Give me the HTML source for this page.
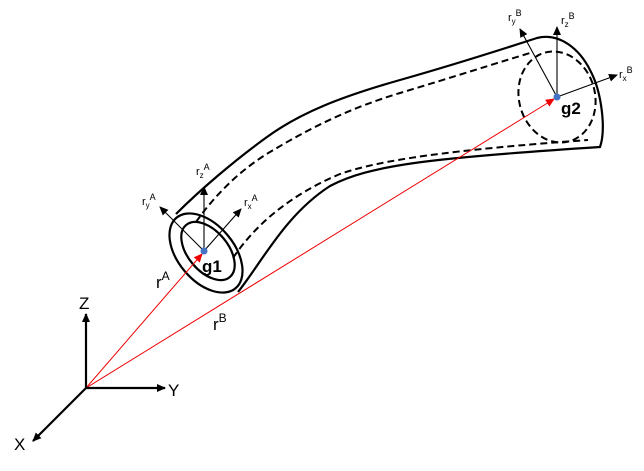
<!DOCTYPE html>
<html><head><meta charset="utf-8"><style>
html,body{margin:0;padding:0;background:#fff;}
svg{display:block;}
text{font-family:"Liberation Sans",sans-serif;}
</style></head><body>
<svg width="644" height="471" viewBox="0 0 644 471" xmlns="http://www.w3.org/2000/svg">
<defs>
<marker id="ab" markerWidth="10" markerHeight="10" refX="8" refY="4" orient="auto" markerUnits="userSpaceOnUse"><path d="M0,0 L9,4 L0,8 z" fill="#000"/></marker>
<marker id="ar" markerWidth="10" markerHeight="10" refX="8" refY="4" orient="auto" markerUnits="userSpaceOnUse"><path d="M0,0 L9,4 L0,8 z" fill="#e00"/></marker>
</defs>
<g fill="none" stroke="#000" stroke-width="2.2">
<path d="M176,214 C200,190 235,160 267,137 C300,113 340,97 400,80 C460,63 500,50 537,38 C560,32 580,50 590,70 C602,92 606,130 600,147 C430,158 370,165 330,186 C285,215 262,262 238,292"/>
<ellipse cx="206" cy="253" rx="46" ry="28" transform="rotate(50 206 253)"/>
<ellipse cx="208" cy="251" rx="34" ry="20" transform="rotate(50 208 251)"/>
</g>
<g fill="none" stroke="#000" stroke-width="2" stroke-dasharray="7,4">
<path d="M196,222 C215,195 240,170 270,152 C310,128 350,108 400,93 C450,78 500,62 530,53"/>
<path d="M233,258 C255,225 290,195 340,174 C380,160 450,150 588,140"/>
<ellipse cx="557" cy="97" rx="38" ry="46" transform="rotate(-15 557 97)"/>
</g>
<g stroke="#e00" stroke-width="1">
<line x1="86" y1="388" x2="202" y2="254" marker-end="url(#ar)"/>
<line x1="86" y1="388" x2="554" y2="99" marker-end="url(#ar)"/>
</g>
<g stroke="#000" stroke-width="2.2">
<line x1="86" y1="388" x2="86" y2="314" marker-end="url(#ab)"/>
<line x1="86" y1="388" x2="165" y2="388" marker-end="url(#ab)"/>
<line x1="86" y1="388" x2="33" y2="441" marker-end="url(#ab)"/>
</g>
<g stroke="#000" stroke-width="1.1">
<line x1="204" y1="251" x2="204" y2="187" marker-end="url(#ab)"/>
<line x1="204" y1="251" x2="160" y2="207" marker-end="url(#ab)"/>
<line x1="204" y1="251" x2="241" y2="209" marker-end="url(#ab)"/>
<line x1="557" y1="97" x2="520" y2="29" marker-end="url(#ab)"/>
<line x1="557" y1="97" x2="557" y2="27" marker-end="url(#ab)"/>
<line x1="557" y1="97" x2="617" y2="75" marker-end="url(#ab)"/>
</g>
<circle cx="204" cy="251" r="3.5" fill="#4472c4"/>
<circle cx="557" cy="97" r="3.5" fill="#4472c4"/>
<g font-size="17" fill="#000">
<text x="79" y="309">Z</text>
<text x="168" y="396">Y</text>
<text x="14" y="450">X</text>
<text x="156" y="288">r<tspan font-size="12" dy="-8">A</tspan></text>
<text x="213" y="330">r<tspan font-size="12" dy="-8">B</tspan></text>
</g>
<g font-size="17" font-weight="bold" fill="#000">
<text x="202" y="272">g1</text>
<text x="561" y="114">g2</text>
</g>
<g font-size="11" fill="#000">
<text x="196" y="175">r<tspan font-size="8" dy="3">z</tspan><tspan font-size="9" dy="-8">A</tspan></text>
<text x="142" y="205">r<tspan font-size="8" dy="3">y</tspan><tspan font-size="9" dy="-8">A</tspan></text>
<text x="244" y="206">r<tspan font-size="8" dy="3">x</tspan><tspan font-size="9" dy="-8">A</tspan></text>
<text x="508" y="21">r<tspan font-size="8" dy="3">y</tspan><tspan font-size="9" dy="-8">B</tspan></text>
<text x="561" y="24">r<tspan font-size="8" dy="3">z</tspan><tspan font-size="9" dy="-8">B</tspan></text>
<text x="619" y="78">r<tspan font-size="8" dy="3">x</tspan><tspan font-size="9" dy="-8">B</tspan></text>
</g>
</svg>
</body></html>
